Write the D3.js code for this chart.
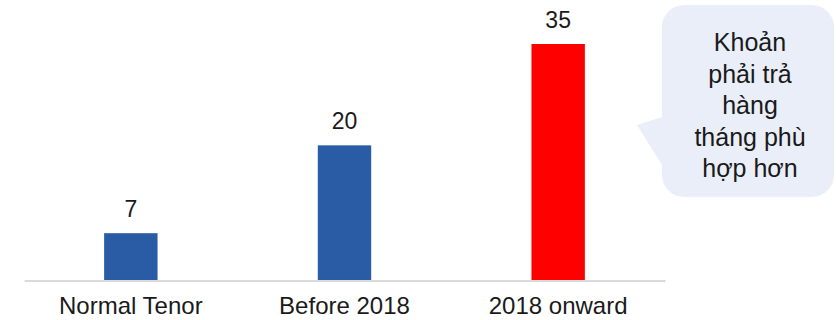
<!DOCTYPE html>
<html>
<head>
<meta charset="utf-8">
<script src="https://cdn.jsdelivr.net/npm/d3@7"></script>
<style>
body{margin:0;background:#fff;}
text{font-family:Arial,"Liberation Sans",sans-serif;fill:#1a1a1a;}
</style>
</head>
<body>
<script>
let categories = ["Normal Tenor","Before 2018","2018 onward"];
let values = [7,20,35];
let barColors = ["#2a5ca6","#2a5ca6","#ff0000"];
let calloutLines = ["Khoản","phải trả","hàng","tháng phù","hợp hơn"];

let svg = d3.select("body").append("svg").attr("width",836).attr("height",320);

let x = d3.scaleBand()
          .domain(categories)
          .range([24,665])
          .paddingInner(0.75)
          .paddingOuter(0.375);

let y = d3.scaleLinear()
          .domain([0,35])
          .range([280.5,44]);

svg.selectAll("rect.bar")
   .data(values)
   .enter().append("rect")
   .attr("class","bar")
   .attr("x",(d,i)=>x(categories[i]))
   .attr("width",x.bandwidth())
   .attr("y",(d)=>y(d))
   .attr("height",(d)=>y(0)-y(d))
   .attr("fill",(d,i)=>barColors[i]);

svg.selectAll("text.val")
   .data(values)
   .enter().append("text")
   .attr("class","val")
   .attr("x",(d,i)=>x(categories[i])+x.bandwidth()/2)
   .attr("y",(d)=>y(d)-16)
   .attr("text-anchor","middle")
   .attr("font-size","23px")
   .text((d)=>d);

let xAxis = d3.axisBottom(x).tickSize(0).tickPadding(16);
let axisG = svg.append("g")
   .attr("transform","translate(0,"+y(0)+")")
   .call(xAxis);
axisG.select(".domain").attr("stroke","#d9d9d9").attr("stroke-width",2);
axisG.selectAll(".tick text").attr("font-size","24px").attr("fill","#1a1a1a")
   .style("font-family","Arial, 'Liberation Sans', sans-serif");

// callout bubble
let bx0 = 662, bx1 = 834, by0 = 5, by1 = 197, r = 22;
let p = d3.path();
p.moveTo(bx0+r,by0);
p.lineTo(bx1-r,by0);
p.arcTo(bx1,by0,bx1,by0+r,r);
p.lineTo(bx1,by1-r);
p.arcTo(bx1,by1,bx1-r,by1,r);
p.lineTo(bx0+r,by1);
p.arcTo(bx0,by1,bx0,by1-r,r);
p.lineTo(bx0,165);
p.lineTo(637,125);
p.lineTo(bx0,117);
p.lineTo(bx0,by0+r);
p.arcTo(bx0,by0,bx0+r,by0,r);
p.closePath();
svg.append("path").attr("d",p.toString()).attr("fill","#e9eef8");

svg.append("g").selectAll("text")
   .data(calloutLines)
   .enter().append("text")
   .attr("x",(bx0+bx1)/2+2)
   .attr("y",(d,i)=>51+i*31.5)
   .attr("text-anchor","middle")
   .attr("font-size","25px")
   .text((d)=>d);
</script>
</body>
</html>
